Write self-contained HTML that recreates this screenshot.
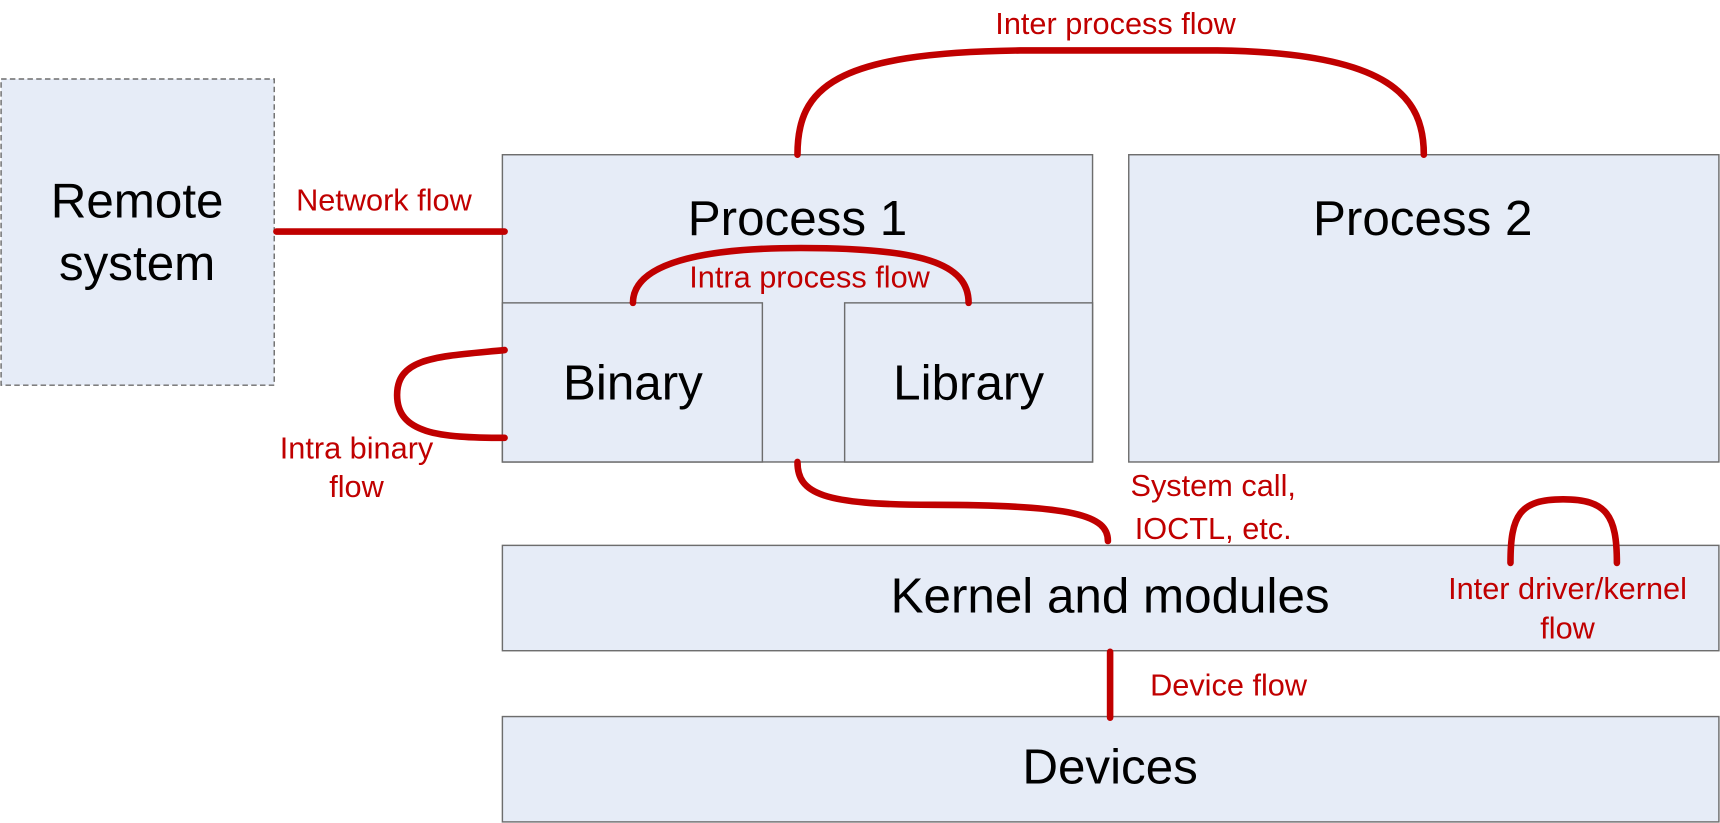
<!DOCTYPE html>
<html><head><meta charset="utf-8"><style>
html,body{margin:0;padding:0;background:#fff;}
svg{display:block;}
text{font-family:"Liberation Sans",Arial,sans-serif;}
.b{fill:#e6ecf7;stroke:#6d6d6d;stroke-width:1.3;}
.t{font-size:45px;fill:#000;text-anchor:middle;}
.r{font-size:28px;fill:#c00000;text-anchor:middle;}
.l{fill:none;stroke:#c00000;stroke-width:6;stroke-linecap:round;}
</style></head><body>
<svg width="1720" height="823" viewBox="0 0 1568 750" preserveAspectRatio="none">
<rect class="b" x="1" y="72" width="249" height="279" stroke-dasharray="5,3"/>
<text class="t" x="125" y="198">Remote</text>
<text class="t" x="125" y="255">system</text>
<rect class="b" x="458" y="141" width="538" height="280"/>
<text class="t" x="727" y="214">Process 1</text>
<rect class="b" x="1029" y="141" width="538" height="280"/>
<text class="t" x="1297" y="214">Process 2</text>
<rect class="b" x="458" y="276" width="237" height="145"/>
<text class="t" x="577" y="364">Binary</text>
<rect class="b" x="770" y="276" width="226" height="145"/>
<text class="t" x="883" y="364">Library</text>
<rect class="b" x="458" y="497" width="1109" height="96"/>
<text class="t" x="1012" y="558">Kernel and modules</text>
<rect class="b" x="458" y="653" width="1109" height="96"/>
<text class="t" x="1012" y="714">Devices</text>

<path class="l" d="M252 211 L460 211"/>
<text class="r" x="350" y="192">Network flow</text>
<path class="l" d="M727 141 C727 80 760 48 930 46 L1110 46 C1270 48 1298 90 1298 141"/>
<text class="r" x="1017" y="31">Inter process flow</text>
<path class="l" d="M577 276 C577 240 640 226 730 226 C840 226 883 240 883 276"/>
<text class="r" x="738" y="262">Intra process flow</text>
<path class="l" d="M460 319 C400 325 362 325 362 360 C362 395 400 399 460 399"/>
<text class="r" x="325" y="418">Intra binary</text>
<text class="r" x="325" y="453">flow</text>
<path class="l" d="M727 421 C727 450 750 460 850 460 C980 460 1010 470 1010 493"/>
<text class="r" x="1106" y="452">System call,</text>
<text class="r" x="1106" y="491">IOCTL, etc.</text>
<path class="l" d="M1377 513 C1377 470 1385 455 1425 455 C1465 455 1474 470 1474 513"/>
<text class="r" x="1429" y="546">Inter driver/kernel</text>
<text class="r" x="1429" y="582">flow</text>
<path class="l" d="M1012 594 L1012 654"/>
<text class="r" x="1120" y="634">Device flow</text>
</svg>
</body></html>
